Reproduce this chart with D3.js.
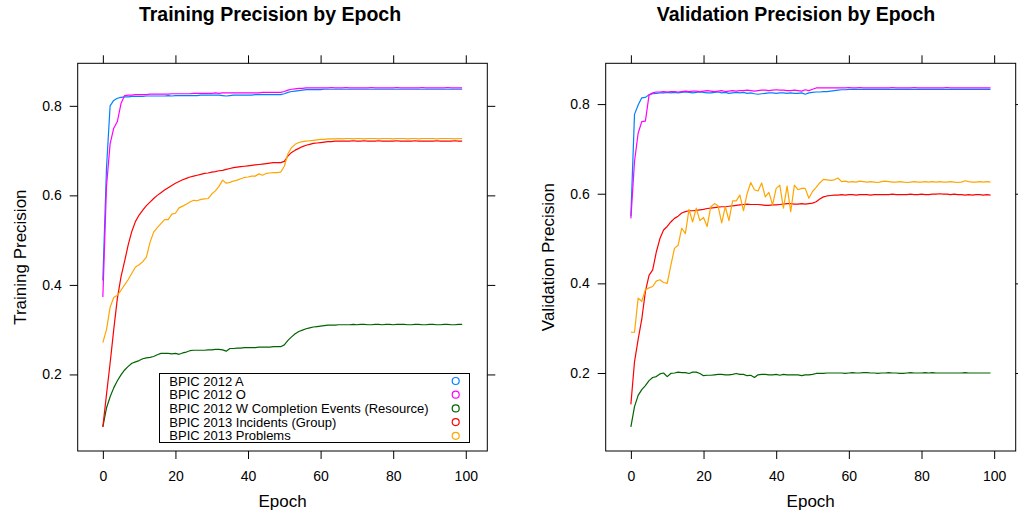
<!DOCTYPE html>
<html>
<head>
<meta charset="utf-8">
<script src="https://cdnjs.cloudflare.com/ajax/libs/d3/7.8.5/d3.min.js"></script>
<style>
  body { margin: 0; background: #fff; }
  svg { font-family: "Liberation Sans", Arial, Helvetica, sans-serif; }
  .axis text { font-size: 14px; fill: #000; }
  .axis line { stroke: #000; }
  .axis path { display: none; }
</style>
</head>
<body>
<svg id="chart" width="1018" height="515"></svg>
<script>
// Series names and colours (lattice superpose defaults)
var seriesNames = ['BPIC 2012 A', 'BPIC 2012 O', 'BPIC 2012 W Completion Events (Resource)',
  'BPIC 2013 Incidents (Group)', 'BPIC 2013 Problems'];
var seriesColors = ['#0080ff', '#ff00ff', '#006400', '#ff0000', '#ffa500'];

var xTicks = [0, 20, 40, 60, 80, 100];
var yTicks = [0.2, 0.4, 0.6, 0.8];

// Training precision, epochs 0..99
var trainA = [0.410, 0.660, 0.800, 0.812, 0.817, 0.819, 0.820, 0.820, 0.821, 0.821,
  0.821, 0.821, 0.822, 0.822, 0.822, 0.822, 0.822, 0.822, 0.823, 0.822,
  0.823, 0.823, 0.823, 0.823, 0.823, 0.823, 0.823, 0.824, 0.824, 0.824,
  0.824, 0.824, 0.824, 0.823, 0.822, 0.823, 0.824, 0.824, 0.824, 0.824,
  0.824, 0.824, 0.825, 0.825, 0.825, 0.825, 0.825, 0.825, 0.825, 0.825,
  0.827, 0.830, 0.832, 0.833, 0.834, 0.835, 0.836, 0.836, 0.836, 0.836,
  0.836, 0.837, 0.837, 0.837, 0.837, 0.837, 0.837, 0.837, 0.837, 0.837,
  0.837, 0.837, 0.837, 0.837, 0.837, 0.837, 0.837, 0.837, 0.837, 0.837,
  0.837, 0.837, 0.837, 0.837, 0.837, 0.837, 0.837, 0.837, 0.837, 0.837,
  0.837, 0.837, 0.837, 0.837, 0.837, 0.837, 0.837, 0.837, 0.837, 0.837];
var trainO = [0.373, 0.620, 0.715, 0.750, 0.765, 0.805, 0.823, 0.824, 0.824, 0.825,
  0.825, 0.825, 0.825, 0.826, 0.826, 0.826, 0.826, 0.826, 0.826, 0.827,
  0.827, 0.827, 0.827, 0.827, 0.827, 0.828, 0.828, 0.828, 0.828, 0.828,
  0.828, 0.829, 0.828, 0.829, 0.829, 0.829, 0.829, 0.829, 0.829, 0.829,
  0.829, 0.829, 0.829, 0.829, 0.830, 0.830, 0.830, 0.830, 0.830, 0.830,
  0.832, 0.835, 0.837, 0.838, 0.839, 0.839, 0.840, 0.840, 0.840, 0.840,
  0.840, 0.840, 0.840, 0.841, 0.840, 0.840, 0.840, 0.841, 0.840, 0.840,
  0.840, 0.840, 0.840, 0.840, 0.841, 0.840, 0.840, 0.840, 0.840, 0.840,
  0.840, 0.841, 0.840, 0.840, 0.840, 0.840, 0.840, 0.840, 0.841, 0.840,
  0.840, 0.840, 0.840, 0.840, 0.840, 0.841, 0.840, 0.840, 0.840, 0.840];
var trainW = [0.083, 0.125, 0.150, 0.170, 0.186, 0.199, 0.210, 0.218, 0.225, 0.228,
  0.231, 0.235, 0.237, 0.238, 0.240, 0.244, 0.247, 0.247, 0.247, 0.246,
  0.247, 0.245, 0.248, 0.250, 0.253, 0.254, 0.254, 0.254, 0.254, 0.255,
  0.255, 0.256, 0.256, 0.255, 0.252, 0.258, 0.258, 0.259, 0.259, 0.260,
  0.260, 0.260, 0.260, 0.261, 0.261, 0.261, 0.261, 0.262, 0.262, 0.262,
  0.266, 0.276, 0.284, 0.291, 0.296, 0.299, 0.302, 0.304, 0.306, 0.307,
  0.308, 0.309, 0.310, 0.310, 0.310, 0.311, 0.311, 0.311, 0.311, 0.312,
  0.311, 0.312, 0.312, 0.311, 0.311, 0.312, 0.312, 0.311, 0.312, 0.312,
  0.311, 0.312, 0.312, 0.312, 0.311, 0.311, 0.312, 0.312, 0.311, 0.311,
  0.312, 0.312, 0.311, 0.311, 0.312, 0.312, 0.311, 0.311, 0.312, 0.312];
var trainI = [0.083, 0.155, 0.225, 0.300, 0.370, 0.418, 0.453, 0.490, 0.520, 0.542,
  0.556, 0.567, 0.577, 0.585, 0.593, 0.600, 0.606, 0.612, 0.617, 0.622,
  0.627, 0.631, 0.635, 0.638, 0.641, 0.643, 0.645, 0.647, 0.649, 0.650,
  0.652, 0.653, 0.655, 0.656, 0.658, 0.660, 0.662, 0.663, 0.664, 0.665,
  0.666, 0.667, 0.668, 0.669, 0.670, 0.671, 0.672, 0.673, 0.673, 0.673,
  0.676, 0.688, 0.696, 0.701, 0.705, 0.709, 0.712, 0.714, 0.716, 0.717,
  0.718, 0.719, 0.720, 0.720, 0.721, 0.721, 0.721, 0.721, 0.721, 0.722,
  0.721, 0.721, 0.722, 0.721, 0.721, 0.721, 0.722, 0.721, 0.721, 0.721,
  0.721, 0.722, 0.721, 0.721, 0.721, 0.721, 0.722, 0.721, 0.721, 0.721,
  0.721, 0.721, 0.722, 0.721, 0.721, 0.721, 0.721, 0.722, 0.721, 0.721];
var trainP = [0.271, 0.300, 0.350, 0.372, 0.377, 0.388, 0.400, 0.412, 0.426, 0.440,
  0.445, 0.452, 0.462, 0.495, 0.518, 0.528, 0.537, 0.546, 0.546, 0.558,
  0.560, 0.572, 0.576, 0.580, 0.585, 0.589, 0.588, 0.591, 0.592, 0.593,
  0.603, 0.610, 0.620, 0.634, 0.627, 0.629, 0.632, 0.634, 0.637, 0.640,
  0.641, 0.643, 0.643, 0.648, 0.645, 0.649, 0.650, 0.651, 0.651, 0.652,
  0.665, 0.693, 0.707, 0.714, 0.718, 0.720, 0.721, 0.722, 0.723, 0.724,
  0.725, 0.725, 0.726, 0.726, 0.726, 0.727, 0.726, 0.727, 0.727, 0.726,
  0.727, 0.727, 0.726, 0.727, 0.727, 0.727, 0.726, 0.727, 0.727, 0.727,
  0.726, 0.727, 0.727, 0.727, 0.726, 0.727, 0.727, 0.726, 0.727, 0.727,
  0.727, 0.727, 0.726, 0.727, 0.727, 0.727, 0.727, 0.726, 0.727, 0.727];

// Validation precision, epochs 0..99
var valA = [0.550, 0.777, 0.798, 0.814, 0.815, 0.821, 0.823, 0.824, 0.825, 0.825,
  0.826, 0.825, 0.826, 0.825, 0.826, 0.827, 0.826, 0.825, 0.826, 0.827,
  0.826, 0.825, 0.825, 0.826, 0.827, 0.825, 0.826, 0.824, 0.825, 0.826,
  0.825, 0.826, 0.824, 0.825, 0.823, 0.822, 0.823, 0.824, 0.825, 0.825,
  0.824, 0.825, 0.825, 0.824, 0.825, 0.824, 0.824, 0.825, 0.822, 0.825,
  0.826, 0.827, 0.827, 0.828, 0.828, 0.829, 0.830, 0.831, 0.832, 0.832,
  0.833, 0.833, 0.833, 0.833, 0.833, 0.833, 0.833, 0.833, 0.833, 0.833,
  0.833, 0.833, 0.833, 0.833, 0.833, 0.833, 0.833, 0.833, 0.833, 0.833,
  0.833, 0.833, 0.833, 0.833, 0.833, 0.833, 0.833, 0.833, 0.833, 0.833,
  0.833, 0.833, 0.833, 0.833, 0.833, 0.833, 0.833, 0.833, 0.833, 0.833];
var valO = [0.545, 0.672, 0.735, 0.761, 0.762, 0.820, 0.825, 0.827, 0.827, 0.828,
  0.827, 0.828, 0.828, 0.827, 0.828, 0.829, 0.828, 0.829, 0.829, 0.828,
  0.829, 0.830, 0.829, 0.828, 0.829, 0.830, 0.828, 0.829, 0.830, 0.829,
  0.830, 0.830, 0.831, 0.830, 0.829, 0.830, 0.831, 0.831, 0.830, 0.831,
  0.832, 0.831, 0.831, 0.830, 0.830, 0.831, 0.830, 0.829, 0.832, 0.830,
  0.833, 0.836, 0.836, 0.836, 0.836, 0.836, 0.836, 0.836, 0.836, 0.836,
  0.837, 0.836, 0.836, 0.837, 0.836, 0.836, 0.836, 0.836, 0.836, 0.836,
  0.836, 0.836, 0.837, 0.836, 0.836, 0.836, 0.836, 0.836, 0.837, 0.836,
  0.836, 0.836, 0.836, 0.836, 0.836, 0.836, 0.836, 0.837, 0.836, 0.836,
  0.836, 0.836, 0.836, 0.836, 0.836, 0.836, 0.836, 0.836, 0.836, 0.836];
var valW = [0.080, 0.125, 0.150, 0.163, 0.172, 0.183, 0.190, 0.192, 0.198, 0.200,
  0.192, 0.199, 0.200, 0.202, 0.201, 0.201, 0.199, 0.202, 0.202, 0.199,
  0.194, 0.195, 0.195, 0.196, 0.197, 0.197, 0.196, 0.196, 0.197, 0.199,
  0.197, 0.197, 0.194, 0.195, 0.190, 0.196, 0.197, 0.197, 0.196, 0.196,
  0.197, 0.195, 0.197, 0.196, 0.196, 0.196, 0.196, 0.194, 0.196, 0.196,
  0.197, 0.199, 0.199, 0.199, 0.200, 0.200, 0.200, 0.200, 0.200, 0.199,
  0.200, 0.201, 0.200, 0.200, 0.201, 0.201, 0.200, 0.200, 0.199, 0.200,
  0.200, 0.201, 0.200, 0.200, 0.199, 0.199, 0.200, 0.201, 0.200, 0.200,
  0.200, 0.201, 0.200, 0.201, 0.200, 0.200, 0.200, 0.200, 0.200, 0.200,
  0.200, 0.200, 0.201, 0.200, 0.200, 0.200, 0.200, 0.200, 0.200, 0.200];
var valI = [0.130, 0.225, 0.275, 0.320, 0.382, 0.418, 0.430, 0.470, 0.500, 0.519,
  0.527, 0.537, 0.545, 0.550, 0.557, 0.560, 0.562, 0.562, 0.563, 0.564,
  0.565, 0.567, 0.568, 0.569, 0.570, 0.571, 0.571, 0.572, 0.573, 0.574,
  0.575, 0.576, 0.577, 0.576, 0.576, 0.576, 0.575, 0.574, 0.574, 0.575,
  0.575, 0.576, 0.577, 0.578, 0.578, 0.577, 0.577, 0.578, 0.577, 0.578,
  0.579, 0.582, 0.588, 0.593, 0.595, 0.596, 0.597, 0.597, 0.598, 0.597,
  0.598, 0.598, 0.597, 0.598, 0.598, 0.598, 0.597, 0.598, 0.598, 0.598,
  0.598, 0.598, 0.599, 0.598, 0.598, 0.598, 0.598, 0.599, 0.598, 0.598,
  0.599, 0.598, 0.598, 0.599, 0.599, 0.600, 0.599, 0.599, 0.598, 0.599,
  0.598, 0.598, 0.597, 0.598, 0.597, 0.598, 0.598, 0.597, 0.598, 0.597];
var valP = [0.291, 0.291, 0.367, 0.360, 0.386, 0.390, 0.393, 0.405, 0.408, 0.402,
  0.400, 0.440, 0.478, 0.485, 0.523, 0.511, 0.565, 0.537, 0.568, 0.540,
  0.547, 0.527, 0.571, 0.578, 0.573, 0.535, 0.571, 0.540, 0.584, 0.584,
  0.597, 0.562, 0.600, 0.625, 0.609, 0.606, 0.624, 0.593, 0.603, 0.575,
  0.612, 0.619, 0.568, 0.617, 0.560, 0.619, 0.609, 0.612, 0.612, 0.590,
  0.605, 0.614, 0.624, 0.632, 0.631, 0.630, 0.631, 0.635, 0.627, 0.628,
  0.626, 0.627, 0.626, 0.628, 0.627, 0.626, 0.627, 0.626, 0.625, 0.627,
  0.628, 0.627, 0.626, 0.626, 0.627, 0.626, 0.625, 0.626, 0.627, 0.626,
  0.626, 0.627, 0.626, 0.627, 0.626, 0.627, 0.626, 0.626, 0.627, 0.626,
  0.625, 0.626, 0.629, 0.627, 0.626, 0.626, 0.627, 0.626, 0.627, 0.626];

var svg = d3.select('#chart');
var fontStack = '"Liberation Sans", Arial, Helvetica, sans-serif';

/**
 * Draws one lattice-style panel.
 */
function drawPanel(opts) {
  var box = opts.box;

  var xScale = d3.scaleLinear()
    .domain([-6.93, 105.93])
    .range([box.left, box.right]);

  var yScale = d3.scaleLinear()
    .domain(opts.yDomain)
    .range([box.bottom, box.top]);

  var g = svg.append('g');

  // Axes (ticks on all four sides, labels bottom and left)
  g.append('g')
    .attr('class', 'axis')
    .attr('transform', 'translate(0,' + box.bottom + ')')
    .call(d3.axisBottom(xScale).tickValues(xTicks).tickSize(8).tickPadding(12));

  g.append('g')
    .attr('class', 'axis')
    .attr('transform', 'translate(0,' + box.top + ')')
    .call(d3.axisTop(xScale).tickValues(xTicks).tickSize(8).tickFormat(''));

  g.append('g')
    .attr('class', 'axis')
    .attr('transform', 'translate(' + box.left + ',0)')
    .call(d3.axisLeft(yScale).tickValues(yTicks).tickSize(8).tickPadding(8).tickFormat(d3.format('.1f')));

  g.append('g')
    .attr('class', 'axis')
    .attr('transform', 'translate(' + box.right + ',0)')
    .call(d3.axisRight(yScale).tickValues(yTicks).tickSize(8).tickFormat(''));

  // Lines
  var line = d3.line()
    .x(function(d, i) { return xScale(i); })
    .y(function(d) { return yScale(d); });

  opts.series.forEach(function(values, i) {
    g.append('path')
      .datum(values)
      .attr('d', line)
      .attr('fill', 'none')
      .attr('stroke', seriesColors[i])
      .attr('stroke-width', 1.2)
      .attr('stroke-linejoin', 'round');
  });

  // Panel frame
  g.append('rect')
    .attr('x', box.left)
    .attr('y', box.top)
    .attr('width', box.right - box.left)
    .attr('height', box.bottom - box.top)
    .attr('fill', 'none')
    .attr('stroke', '#000')
    .attr('stroke-width', 1);

  // Titles
  g.append('text')
    .attr('x', opts.titleX)
    .attr('y', 21)
    .attr('text-anchor', 'middle')
    .style('font-family', fontStack)
    .style('font-size', '19.5px')
    .style('font-weight', 'bold')
    .text(opts.title);

  g.append('text')
    .attr('x', (box.left + box.right) / 2)
    .attr('y', 507)
    .attr('text-anchor', 'middle')
    .style('font-family', fontStack)
    .style('font-size', '17px')
    .text('Epoch');

  g.append('text')
    .attr('transform', 'translate(' + (box.left - 51.5) + ',' + ((box.top + box.bottom) / 2) + ') rotate(-90)')
    .attr('text-anchor', 'middle')
    .style('font-family', fontStack)
    .style('font-size', '17px')
    .text(opts.yLabel);

  return g;
}

drawPanel({
  box: { left: 77.7, right: 487.3, top: 63.3, bottom: 451 },
  yDomain: [0.029, 0.895],
  series: [trainA, trainO, trainW, trainI, trainP],
  title: 'Training Precision by Epoch',
  titleX: 270,
  yLabel: 'Training Precision'
});

drawPanel({
  box: { left: 605.7, right: 1015.7, top: 63.3, bottom: 451 },
  yDomain: [0.026, 0.891],
  series: [valA, valO, valW, valI, valP],
  title: 'Validation Precision by Epoch',
  titleX: 796,
  yLabel: 'Validation Precision'
});

// Legend (left panel)
var legend = svg.append('g');

legend.append('rect')
  .attr('x', 159.5)
  .attr('y', 373.5)
  .attr('width', 310)
  .attr('height', 69)
  .attr('fill', '#fff')
  .attr('stroke', '#000')
  .attr('stroke-width', 1);

var rows = legend.selectAll('.row')
  .data(seriesNames)
  .enter()
  .append('g')
  .attr('transform', function(d, i) {
    return 'translate(0,' + (381 + i * 13.7) + ')';
  });

rows.append('text')
  .attr('x', 169.3)
  .attr('dy', '0.35em')
  .style('font-family', fontStack)
  .style('font-size', '13px')
  .text(function(d) { return d; });

rows.append('circle')
  .attr('cx', 455.7)
  .attr('r', 3.5)
  .attr('fill', 'none')
  .attr('stroke', function(d, i) { return seriesColors[i]; })
  .attr('stroke-width', 1.2);
</script>
</body>
</html>
